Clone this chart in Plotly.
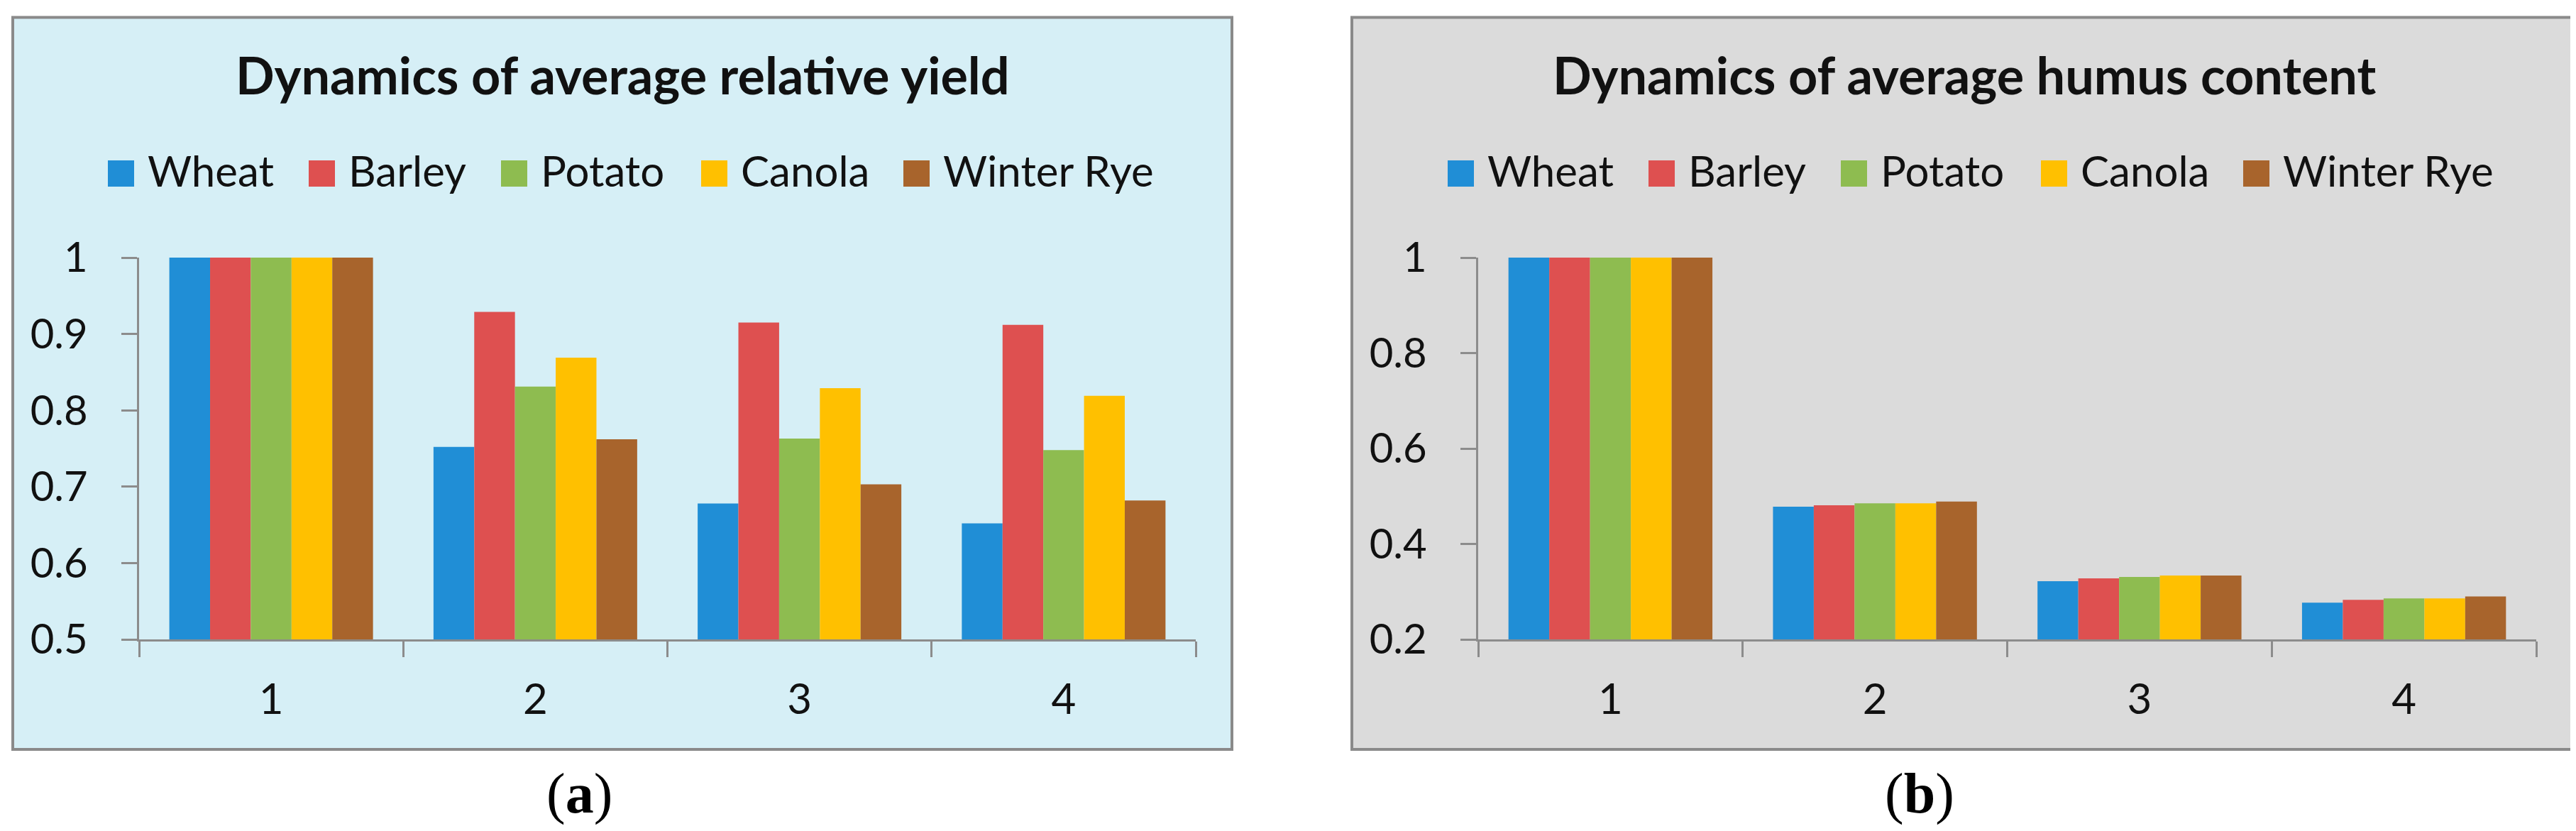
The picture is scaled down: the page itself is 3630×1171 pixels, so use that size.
import plotly.graph_objects as go

# ---------------- data ----------------
categories = ["1", "2", "3", "4"]
series_names = ["Wheat", "Barley", "Potato", "Canola", "Winter Rye"]

yield_wheat = [1.0, 0.752, 0.678, 0.652]
yield_barley = [1.0, 0.929, 0.915, 0.912]
yield_potato = [1.0, 0.831, 0.763, 0.748]
yield_canola = [1.0, 0.869, 0.829, 0.819]
yield_rye = [1.0, 0.762, 0.703, 0.682]

humus_wheat = [1.0, 0.478, 0.322, 0.277]
humus_barley = [1.0, 0.481, 0.328, 0.283]
humus_potato = [1.0, 0.485, 0.331, 0.286]
humus_canola = [1.0, 0.485, 0.334, 0.286]
humus_rye = [1.0, 0.489, 0.334, 0.290]

yticks_a = [0.5, 0.6, 0.7, 0.8, 0.9, 1.0]
yticklabels_a = ["0.5", "0.6", "0.7", "0.8", "0.9", "1"]
yticks_b = [0.2, 0.4, 0.6, 0.8, 1.0]
yticklabels_b = ["0.2", "0.4", "0.6", "0.8", "1"]

title_a = "Dynamics of average relative yield"
title_b = "Dynamics of average humus content"
caption_a = "(<b>a</b>)"
caption_b = "(<b>b</b>)"

# ---------------- styles ----------------
colors = ["#208ED6", "#DE5050", "#8EBC50", "#FFC000", "#A8642C"]
bg_a = "#D6EFF6"
bg_b = "#DBDBDB"
border_col = "#8A8A8A"
axis_col = "#8C8C8C"
text_col = "#111111"
FONT = "Lato"

W, H = 3630, 1171


def px(x):
    return x / W


def py(y):
    return 1 - y / H


yield_data = [yield_wheat, yield_barley, yield_potato, yield_canola, yield_rye]
humus_data = [humus_wheat, humus_barley, humus_potato, humus_canola, humus_rye]

fig = go.Figure()
for name, col, ya, yb in zip(series_names, colors, yield_data, humus_data):
    fig.add_trace(go.Bar(x=categories, y=ya, name=name, marker=dict(color=col, line=dict(width=0)),
                         xaxis="x", yaxis="y", showlegend=False))
    fig.add_trace(go.Bar(x=categories, y=yb, name=name, marker=dict(color=col, line=dict(width=0)),
                         xaxis="x2", yaxis="y2", showlegend=False))

ydom = [py(893), py(355)]
common_x = dict(type="category", showline=True, linecolor=axis_col, linewidth=2.5,
                ticks="outside", tickson="boundaries", ticklen=22, tickwidth=2.5, tickcolor=axis_col,
                showgrid=False, zeroline=False, automargin=False,
                tickfont=dict(family=FONT, size=60, color=text_col), ticklabelstandoff=30)
common_y = dict(showline=True, linecolor=axis_col, linewidth=2.5, ticks="outside", ticklen=22,
                tickwidth=2.5, tickcolor=axis_col, showgrid=False, zeroline=False, automargin=False,
                tickfont=dict(family=FONT, size=58, color=text_col), ticklabelstandoff=36)

fig.update_layout(
    width=W, height=H, autosize=False,
    margin=dict(l=0, r=0, t=0, b=0, pad=0, autoexpand=False),
    paper_bgcolor="white", plot_bgcolor="rgba(0,0,0,0)",
    barmode="group", bargap=0.229, bargroupgap=0,
    xaxis=dict(domain=[px(188), px(1677)], anchor="y", **common_x),
    yaxis=dict(domain=ydom, anchor="x", range=[0.5, 1.0], tickvals=yticks_a, ticktext=yticklabels_a, **common_y),
    xaxis2=dict(domain=[px(2075), px(3566)], anchor="y2", **common_x),
    yaxis2=dict(domain=ydom, anchor="x2", range=[0.2, 1.0], tickvals=yticks_b, ticktext=yticklabels_b, **common_y),
)

shapes = []
annotations = []
panels = [
    dict(x0=10, x1=1728, bg=bg_a, title=title_a, tcx=869, legx=144, cap=caption_a, capx=808),
    dict(x0=1897, x1=3618, bg=bg_b, title=title_b, tcx=2760, legx=2032, cap=caption_b, capx=2697),
]
legend_offsets = [0, 283, 554, 836, 1121]
for p in panels:
    shapes.append(dict(type="rect", xref="paper", yref="paper", x0=px(p["x0"]), x1=px(p["x1"]),
                       y0=py(1048), y1=py(16.5), fillcolor=p["bg"],
                       line=dict(color=border_col, width=4), layer="below"))
    annotations.append(dict(xref="paper", yref="paper", x=px(p["tcx"]), y=py(97), text="<b>" + p["title"] + "</b>",
                            showarrow=False, xanchor="center", yanchor="middle",
                            font=dict(family=FONT, size=72, color=text_col)))
    for name, col, off in zip(series_names, colors, legend_offsets):
        sx = p["legx"] + off
        shapes.append(dict(type="rect", xref="paper", yref="paper", x0=px(sx), x1=px(sx + 37),
                           y0=py(255), y1=py(218), fillcolor=col, line=dict(width=0)))
        annotations.append(dict(xref="paper", yref="paper", x=px(sx + 54), y=py(232), text=name,
                                showarrow=False, xanchor="left", yanchor="middle",
                                font=dict(family=FONT, size=60, color=text_col)))
    annotations.append(dict(xref="paper", yref="paper", x=px(p["capx"]), y=py(1110), text=p["cap"],
                            showarrow=False, xanchor="center", yanchor="middle",
                            font=dict(family="Liberation Serif", size=80, color="black")))

fig.update_layout(shapes=shapes, annotations=annotations)
fig.write_html("out.html")
